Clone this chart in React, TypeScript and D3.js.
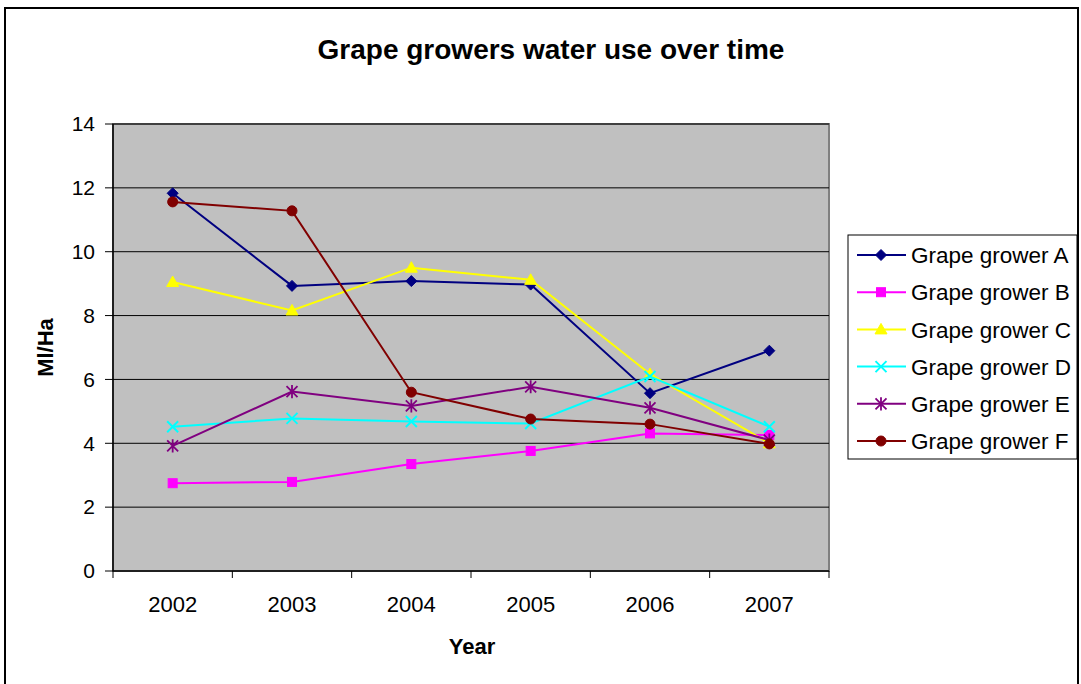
import React from "react";
import * as d3 from "d3";

const years = ["2002", "2003", "2004", "2005", "2006", "2007"];
const seriesNames = ["Grape grower A", "Grape grower B", "Grape grower C", "Grape grower D", "Grape grower E", "Grape grower F"];
const growerA = [11.83, 8.93, 9.08, 8.97, 5.57, 6.9];
const growerB = [2.75, 2.79, 3.35, 3.76, 4.31, 4.26];
const growerC = [9.05, 8.16, 9.5, 9.12, 6.17, 4.0];
const growerD = [4.52, 4.78, 4.68, 4.62, 6.09, 4.52];
const growerE = [3.92, 5.62, 5.17, 5.77, 5.11, 4.1];
const growerF = [11.56, 11.28, 5.6, 4.76, 4.6, 3.98];
const yTicks = [0, 2, 4, 6, 8, 10, 12, 14];

const seriesValues = [growerA, growerB, growerC, growerD, growerE, growerF];
const colors = ["#000080", "#FF00FF", "#FFFF00", "#00FFFF", "#800080", "#800000"];
const markerTypes = ["diamond", "square", "triangle", "x", "star", "circle"];

const FONT = "'Liberation Sans', Arial, Helvetica, sans-serif";

function Marker({ type, color, cx, cy }: { type: string; color: string; cx: number; cy: number }) {
  const t = `translate(${cx},${cy})`;
  if (type === "diamond") {
    const r = 5.5;
    return <path transform={t} d={`M0,${-r}L${r},0L0,${r}L${-r},0Z`} fill={color} stroke={color} strokeWidth={1} />;
  }
  if (type === "square") {
    const r = 4.5;
    return <rect transform={t} x={-r} y={-r} width={2 * r} height={2 * r} fill={color} stroke={color} strokeWidth={1} />;
  }
  if (type === "triangle") {
    const r = 6;
    return <path transform={t} d={`M0,${-r}L${r},${r * 0.75}L${-r},${r * 0.75}Z`} fill={color} stroke={color} strokeWidth={1} />;
  }
  if (type === "x") {
    const r = 5.5;
    return <path transform={t} d={`M${-r},${-r}L${r},${r}M${-r},${r}L${r},${-r}`} stroke={color} strokeWidth={2} fill="none" />;
  }
  if (type === "star") {
    const r = 5.5;
    return (
      <path
        transform={t}
        d={`M${-r},${-r}L${r},${r}M${-r},${r}L${r},${-r}M0,${-r * 1.2}L0,${r * 1.2}`}
        stroke={color}
        strokeWidth={1.8}
        fill="none"
      />
    );
  }
  return <circle transform={t} r={5} fill={color} stroke={color} strokeWidth={1} />;
}

export default function App() {
  const W = 1081;
  const H = 684;
  const left = 113, right = 829, top = 124, bottom = 571;

  const x = d3.scaleBand<string>().domain(years).range([left, right]);
  const y = d3.scaleLinear().domain([0, 14]).range([bottom, top]);
  const cx = (yr: string) => (x(yr) as number) + x.bandwidth() / 2;

  const line = d3
    .line<number>()
    .x((_, i) => cx(years[i]))
    .y((v) => y(v));

  const legX = 848, legY = 235, legW = 229, legH = 224;
  const rowH = 37.2;

  return (
    <svg width={W} height={H} style={{ position: "fixed", left: 0, top: 0, background: "#fff" }} fontFamily={FONT}>
      <rect x={5} y={8} width={1073} height={700} fill="#fff" stroke="#000" strokeWidth={2} />
      <text x={551} y={59} textAnchor="middle" fontSize={28} fontWeight="bold" fill="#000">
        Grape growers water use over time
      </text>

      {/* plot area */}
      <rect x={left} y={top} width={right - left} height={bottom - top} fill="#C0C0C0" stroke="#808080" strokeWidth={2} />
      {yTicks.slice(1).map((v) => (
        <line key={"g" + v} x1={left} x2={right} y1={y(v)} y2={y(v)} stroke="#000" strokeWidth={1} />
      ))}
      {/* axes */}
      <line x1={left} x2={left} y1={top} y2={bottom} stroke="#000" strokeWidth={1.5} />
      <line x1={left} x2={right} y1={bottom} y2={bottom} stroke="#000" strokeWidth={1.5} />
      {yTicks.map((v) => (
        <g key={"yt" + v}>
          <line x1={left - 8} x2={left} y1={y(v)} y2={y(v)} stroke="#000" strokeWidth={1} />
          <text x={95} y={y(v)} dy="0.35em" textAnchor="end" fontSize={21} fill="#000">
            {v}
          </text>
        </g>
      ))}
      {years.map((yr) => (
        <line key={"xt" + yr} x1={x(yr) as number} x2={x(yr) as number} y1={bottom} y2={bottom + 7} stroke="#000" strokeWidth={1} />
      ))}
      <line x1={right} x2={right} y1={bottom} y2={bottom + 7} stroke="#000" strokeWidth={1} />
      {years.map((yr) => (
        <text key={"xl" + yr} x={cx(yr)} y={612} textAnchor="middle" fontSize={22} fill="#000">
          {yr}
        </text>
      ))}
      <text x={472} y={654} textAnchor="middle" fontSize={22} fontWeight="bold" fill="#000">
        Year
      </text>
      <text transform={`translate(53,${(top + bottom) / 2}) rotate(-90)`} textAnchor="middle" fontSize={22} fontWeight="bold" fill="#000">
        Ml/Ha
      </text>

      {/* series */}
      {seriesValues.map((vals, si) => (
        <g key={"s" + si}>
          <path d={line(vals) as string} fill="none" stroke={colors[si]} strokeWidth={2} />
          {vals.map((v, i) => (
            <Marker key={i} type={markerTypes[si]} color={colors[si]} cx={cx(years[i])} cy={y(v)} />
          ))}
        </g>
      ))}

      {/* legend */}
      <rect x={legX} y={legY} width={legW} height={legH} fill="#fff" stroke="#000" strokeWidth={1} />
      {seriesNames.map((name, i) => {
        const ry = legY + 20 + i * rowH;
        return (
          <g key={"l" + i}>
            <line x1={857} x2={906} y1={ry} y2={ry} stroke={colors[i]} strokeWidth={2} />
            <Marker type={markerTypes[i]} color={colors[i]} cx={881} cy={ry} />
            <text x={911} y={ry} dy="0.36em" fontSize={22.5} fill="#000">
              {name}
            </text>
          </g>
        );
      })}
    </svg>
  );
}
